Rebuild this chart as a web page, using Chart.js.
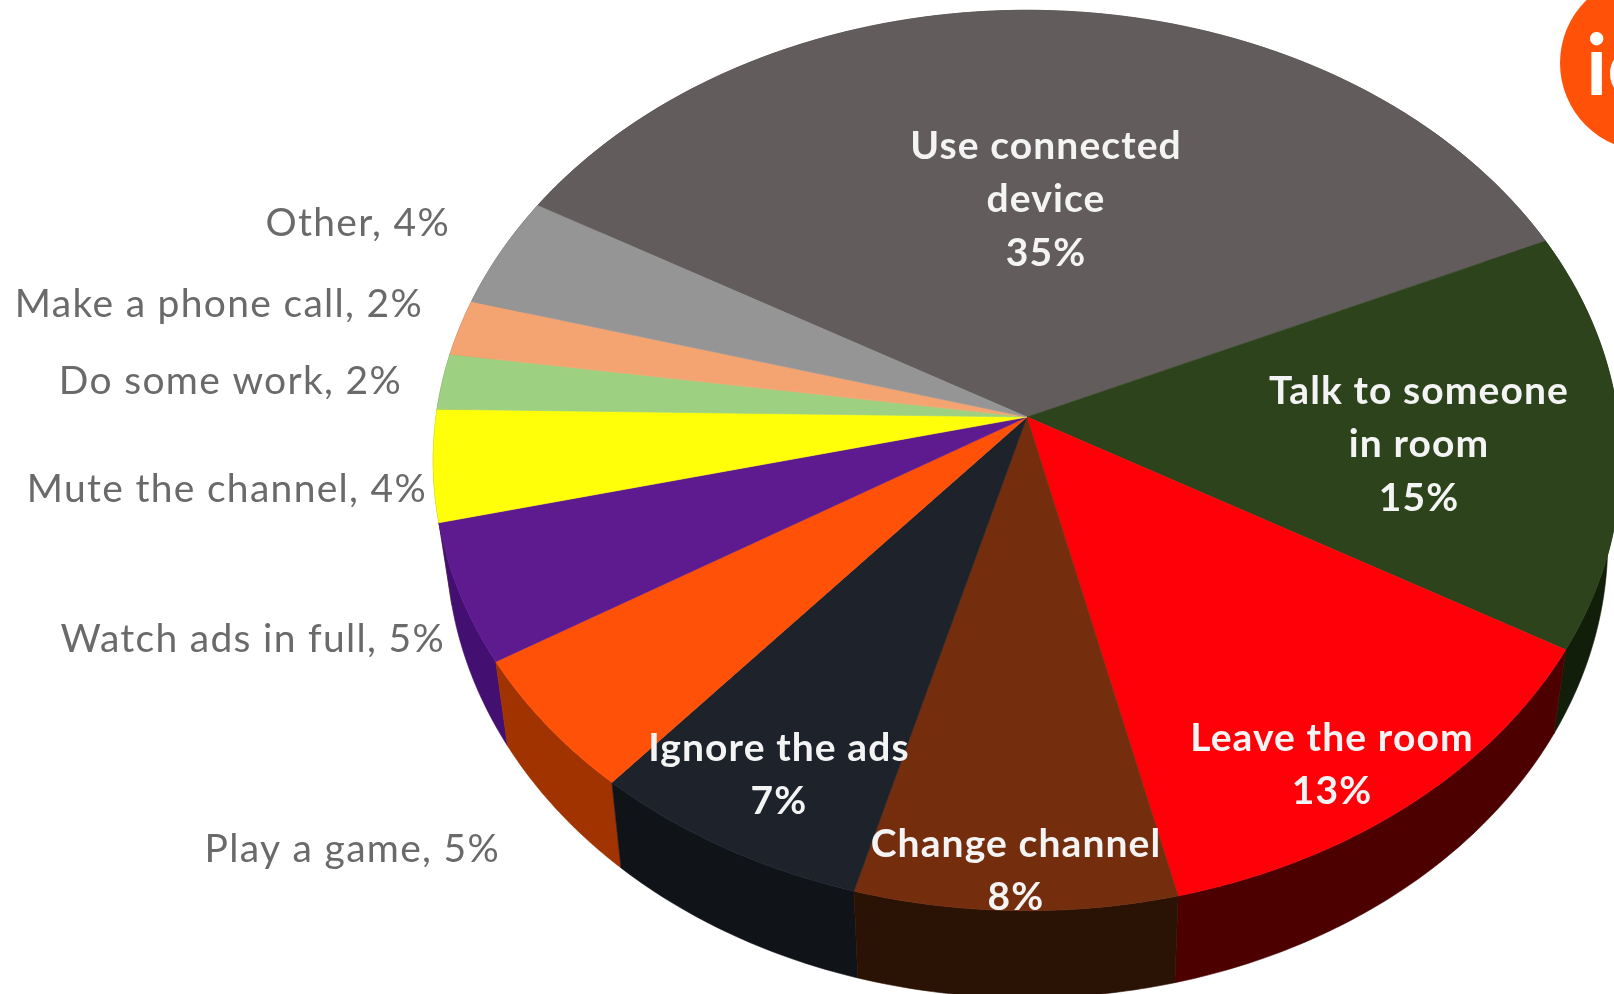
<!DOCTYPE html>
<html>
<head>
<meta charset="utf-8">
<title>What viewers do during ad breaks</title>
<script src="https://cdn.jsdelivr.net/npm/chart.js@4"></script>
<style>
    html, body { margin: 0; padding: 0; background: #fff; overflow: hidden; }
    #wrap { position: relative; width: 1614px; height: 994px; overflow: hidden; }
    #pie { position: absolute; left: 0; top: 0; }
    #badge {
        position: absolute; left: 1560px; top: -25px; width: 176px; height: 176px;
        border-radius: 50%; background: #ff5208; color: #fff;
        font: 700 84px Lato, sans-serif; line-height: 176px; text-indent: 26px;
    }
</style>
</head>
<body>
<div id="wrap">
    <canvas id="pie" width="1614" height="994"></canvas>
    <div id="badge">ic</div>
</div>
<script>
const categories = ['Use connected device', 'Talk to someone in room', 'Leave the room', 'Change channel', 'Ignore the ads',
    'Play a game', 'Watch ads in full', 'Mute the channel', 'Do some work', 'Make a phone call', 'Other'];
const shares = [35, 15, 13, 8, 7, 5, 5, 4, 2, 2, 4];
const topColors = ['#625d5c', '#2d431b', '#ff0008', '#742e0e', '#1d222b', '#ff5208', '#5e1b8f', '#ffff0a', '#9dd080', '#f4a470', '#959595'];
const wallColors = ['#3a3736', '#111f0a', '#4d0000', '#2a1205', '#101318', '#a03300', '#430f70', '#8f8f05', '#5e7d4c', '#92623f', '#595959'];

// inside labels wrap by hand, outside ones are right aligned against the pie
const insideLabels = [
    { index: 0, lines: ['Use connected', 'device'], x: 1046, y: 146 },
    { index: 1, lines: ['Talk to someone', 'in room'], x: 1419, y: 391 },
    { index: 2, lines: ['Leave the room'], x: 1332, y: 738 },
    { index: 3, lines: ['Change channel'], x: 1016, y: 844 },
    { index: 4, lines: ['Ignore the ads'], x: 779, y: 748 }
];
const outsideLabels = [
    { index: 10, x: 450, y: 223 },
    { index: 9, x: 423, y: 304 },
    { index: 8, x: 402, y: 381 },
    { index: 7, x: 427, y: 489 },
    { index: 6, x: 445, y: 639 },
    { index: 5, x: 500, y: 849 }
];

// tilted disc: unit circle seen in perspective, near edge bigger than far edge
const view = { cx: 1027, cy: 417, rx: 591, ry: 446, k: 0.0966, depth: 81, depthNear: 6, shrink: 0.978 };

const project = (angle) => {
    const u = Math.cos(angle);
    const v = Math.sin(angle);
    const w = 1 - view.k * v;
    return { x: view.cx + view.rx * u / w, y: view.cy + view.ry * v / w };
};

// underside of the disc, a little smaller and thinner towards the back
const lower = (angle) => {
    const p = project(angle);
    return { x: view.cx + (p.x - view.cx) * view.shrink, y: p.y + view.depth + view.depthNear * Math.sin(angle) };
};

const rimAngles = (start, end) => {
    const steps = Math.max(2, Math.ceil((end - start) * 90));
    const angles = [];
    for (let i = 0; i <= steps; i++) {
        angles.push(start + (end - start) * i / steps);
    }
    return angles;
};

const tiltedPie = {
    id: 'tiltedPie',
    beforeDatasetsDraw(chart) {
        const ctx = chart.ctx;
        const arcs = chart.getDatasetMeta(0).data;
        ctx.save();

        // walls first, far ones before near ones
        const order = arcs.map((arc, i) => i).sort((a, b) =>
            Math.sin((arcs[a].startAngle + arcs[a].endAngle) / 2) - Math.sin((arcs[b].startAngle + arcs[b].endAngle) / 2));
        order.forEach(i => {
            const angles = rimAngles(arcs[i].startAngle, arcs[i].endAngle);
            ctx.beginPath();
            angles.forEach((a, n) => {
                const p = project(a);
                n ? ctx.lineTo(p.x, p.y) : ctx.moveTo(p.x, p.y);
            });
            angles.slice().reverse().forEach(a => {
                const q = lower(a);
                ctx.lineTo(q.x, q.y);
            });
            ctx.closePath();
            ctx.fillStyle = wallColors[i];
            ctx.strokeStyle = wallColors[i];
            ctx.lineWidth = 0.6;
            ctx.fill();
            ctx.stroke();
        });

        // top faces
        arcs.forEach((arc, i) => {
            ctx.beginPath();
            ctx.moveTo(view.cx, view.cy);
            rimAngles(arc.startAngle, arc.endAngle).forEach(a => {
                const p = project(a);
                ctx.lineTo(p.x, p.y);
            });
            ctx.closePath();
            ctx.fillStyle = arc.options.backgroundColor;
            ctx.strokeStyle = arc.options.backgroundColor;
            ctx.lineWidth = 0.6;
            ctx.fill();
            ctx.stroke();
        });
        ctx.restore();
    },
    // the faces above replace the flat arcs
    beforeDatasetDraw() {
        return false;
    },
    afterDatasetsDraw(chart) {
        const ctx = chart.ctx;
        ctx.save();
        ctx.textBaseline = 'middle';

        ctx.font = '700 39px Lato, sans-serif';
        ctx.letterSpacing = '1.1px';
        ctx.fillStyle = '#f4f4f4';
        ctx.textAlign = 'center';
        insideLabels.forEach(l => {
            const rows = l.lines.concat(shares[l.index] + '%');
            rows.forEach((row, n) => ctx.fillText(row, l.x, l.y + n * 53.5));
        });

        ctx.font = '39px Lato, sans-serif';
        ctx.letterSpacing = '1.3px';
        ctx.fillStyle = '#6a6a6a';
        ctx.textAlign = 'right';
        outsideLabels.forEach(l => {
            ctx.fillText(categories[l.index] + ', ' + shares[l.index] + '%', l.x, l.y);
        });
        ctx.restore();
    }
};

new Chart(document.getElementById('pie'), {
    type: 'pie',
    data: {
        labels: categories,
        datasets: [{ data: shares, backgroundColor: topColors, borderWidth: 0 }]
    },
    options: {
        responsive: false,
        animation: false,
        rotation: -60.2,
        plugins: { legend: { display: false }, tooltip: { enabled: false } }
    },
    plugins: [tiltedPie]
});
</script>
</body>
</html>
